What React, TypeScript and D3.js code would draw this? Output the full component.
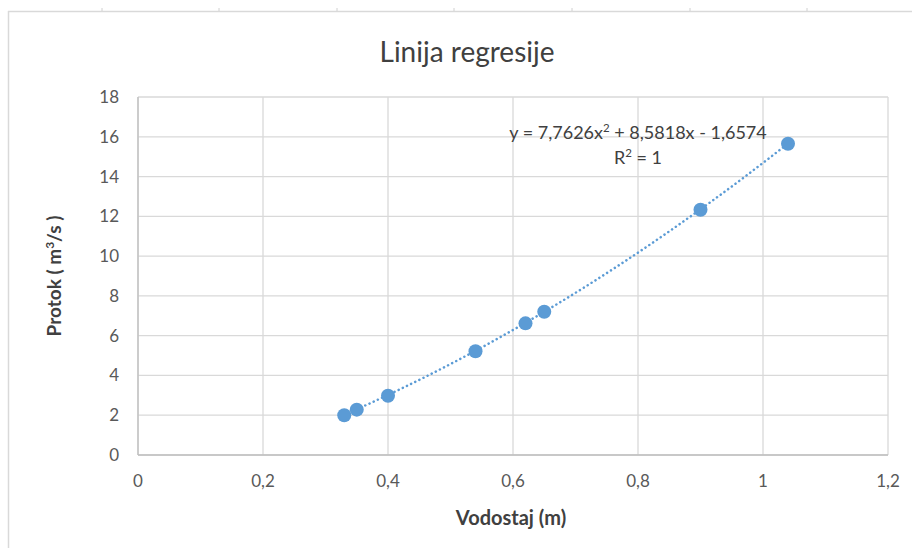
import { line, scaleLinear, range } from "d3";

const vodostaj = [0.33, 0.35, 0.4, 0.54, 0.62, 0.65, 0.9, 1.04];
const protok = [2.0, 2.28, 2.98, 5.22, 6.62, 7.2, 12.33, 15.65];
const xTicks = [0, 0.2, 0.4, 0.6, 0.8, 1, 1.2];
const yTicks = [0, 2, 4, 6, 8, 10, 12, 14, 16, 18];
// trendline coefficients from the label: a·x² + b·x + c
const coeffs = [7.7626, 8.5818, -1.6574];

const width = 912;
const height = 548;
const margin = { left: 138, right: 24, top: 97, bottom: 93 };
const font = "Lato, 'Open Sans', 'DejaVu Sans', sans-serif";
const gridColor = "#d9d9d9";
const blue = "#5b9bd5";

const fmt = (v: number) => String(v).replace(".", ",");

export default function App(): React.JSX.Element {
  const x = scaleLinear().domain([0, 1.2]).range([margin.left, width - margin.right]);
  const y = scaleLinear().domain([0, 18]).range([height - margin.bottom, margin.top]);

  const [a, b, c] = coeffs;
  const xMin = Math.min(...vodostaj);
  const xMax = Math.max(...vodostaj);
  const trendX = range(0, 61).map((i) => xMin + ((xMax - xMin) * i) / 60);
  const trendPath =
    line<number>()
      .x((v) => x(v))
      .y((v) => y(a * v * v + b * v + c))(trendX) ?? "";

  const x0 = x(0);
  const x1 = x(1.2);
  const y0 = y(0);
  const y1 = y(18);

  return (
    <svg
      width={width}
      height={height}
      viewBox={`0 0 ${width} ${height}`}
      style={{ position: "absolute", left: 0, top: 0, background: "#fff" }}
      fontFamily={font}
    >
      {/* chart frame */}
      <line x1={8} y1={11.5} x2={width} y2={11.5} stroke={gridColor} strokeWidth={1.5} />
      <line x1={8.5} y1={11} x2={8.5} y2={height} stroke={gridColor} strokeWidth={1.5} />
      {[102, 219, 337, 454, 572, 690, 807].map((tx) => (
        <line key={tx} x1={tx} y1={8} x2={tx} y2={11} stroke="#d0d0d0" strokeWidth={1} />
      ))}

      <text x={467} y={62} textAnchor="middle" fontSize={28} fill="#404040">
        Linija regresije
      </text>

      {/* gridlines */}
      {yTicks.map((t) => (
        <line key={`gy${t}`} x1={x0} x2={x1} y1={y(t)} y2={y(t)} stroke={gridColor} strokeWidth={1.3} />
      ))}
      {xTicks.map((t) => (
        <line key={`gx${t}`} x1={x(t)} x2={x(t)} y1={y0} y2={y1} stroke={gridColor} strokeWidth={1.3} />
      ))}
      <line x1={x0} x2={x1} y1={y0} y2={y0} stroke="#bfbfbf" strokeWidth={1.3} />
      <line x1={x0} x2={x0} y1={y0} y2={y1} stroke="#bfbfbf" strokeWidth={1.3} />

      {/* tick labels */}
      {yTicks.map((t) => (
        <text key={`ly${t}`} x={119} y={y(t) + 6} textAnchor="end" fontSize={17} fill="#595959">
          {fmt(t)}
        </text>
      ))}
      {xTicks.map((t) => (
        <text key={`lx${t}`} x={x(t)} y={487} textAnchor="middle" fontSize={17} fill="#595959">
          {fmt(t)}
        </text>
      ))}

      {/* axis titles */}
      <text x={511} y={525} textAnchor="middle" fontSize={20} fontWeight="bold" fill="#404040">
        Vodostaj (m)
      </text>
      <text
        transform={`translate(61, ${276}) rotate(-90)`}
        textAnchor="middle"
        fontSize={19}
        fontWeight="bold"
        fill="#404040"
      >
        Protok ( m<tspan fontSize={12} dy={-7}>3</tspan>
        <tspan dy={7}>/s )</tspan>
      </text>

      {/* trendline */}
      <path
        d={trendPath}
        fill="none"
        stroke={blue}
        strokeWidth={2.5}
        strokeDasharray="0.1 4.5"
        strokeLinecap="round"
      />

      {/* points */}
      {vodostaj.map((v, i) => (
        <circle key={i} cx={x(v)} cy={y(protok[i])} r={7} fill={blue} />
      ))}

      {/* equation label */}
      <text x={638} y={139} textAnchor="middle" fontSize={18} fill="#404040">
        y = 7,7626x<tspan fontSize={11.5} dy={-7}>2</tspan>
        <tspan dy={7}> + 8,5818x - 1,6574</tspan>
      </text>
      <text x={638} y={164} textAnchor="middle" fontSize={18} fill="#404040">
        R<tspan fontSize={11.5} dy={-7}>2</tspan>
        <tspan dy={7}> = 1</tspan>
      </text>
    </svg>
  );
}
